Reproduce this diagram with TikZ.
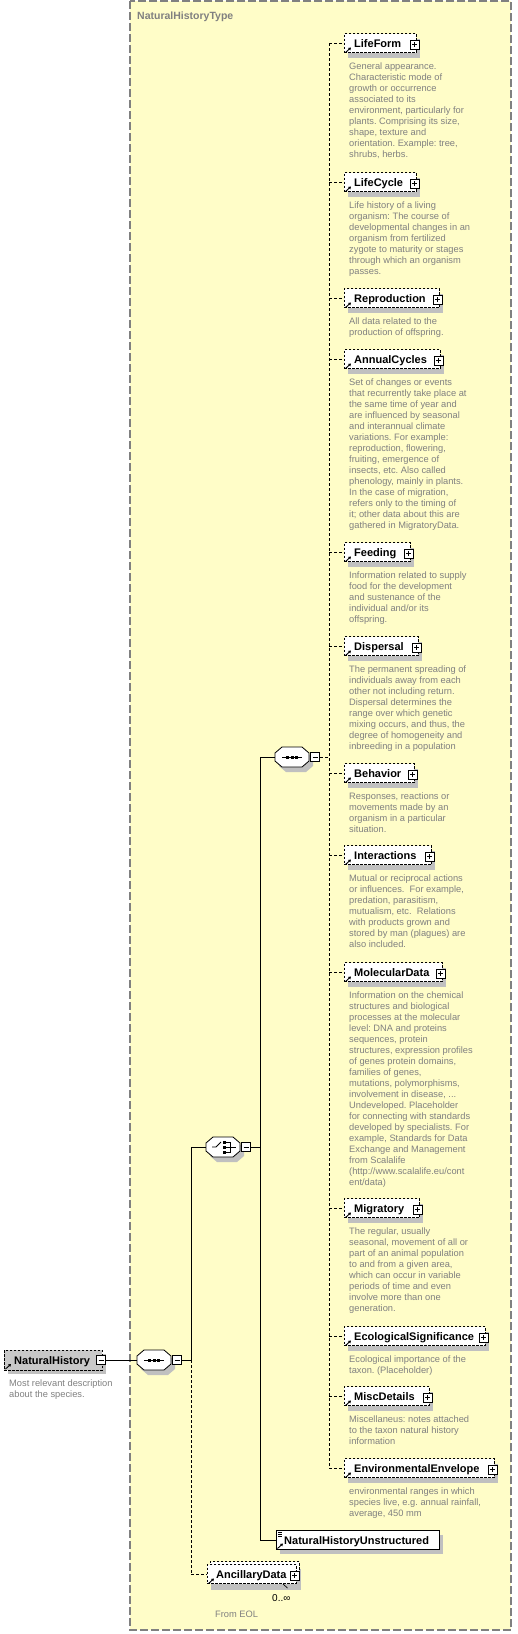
\documentclass[tikz,border=0pt]{standalone}
\usepackage{fontspec}
\setmainfont{Liberation Sans}
\usetikzlibrary{arrows.meta}
\definecolor{bgyellow}{RGB}{255,253,200}
\definecolor{framegray}{RGB}{128,128,128}
\definecolor{desccol}{RGB}{128,128,128}
\definecolor{shadowgray}{RGB}{192,192,192}
\definecolor{rootgray}{RGB}{200,200,200}
\tikzset{
 kidbox/.style={draw=black, dash pattern=on 2.5pt off 1.5pt, line width=0.8pt, fill=white, minimum height=19pt, inner sep=0pt, anchor=west},
 kidname/.style={font=\fontsize{11}{13}\selectfont\bfseries, inner sep=0pt, anchor=base west},
 desc/.style={font=\fontsize{9.3}{11}\selectfont\frenchspacing, text=desccol, inner sep=0pt, anchor=base west},
 pmbox/.style={draw=black, fill=white, line width=0.7pt, minimum size=9pt, inner sep=0pt},
 plusbox/.style={pmbox, path picture={\draw[line width=0.7pt] ([xshift=2pt]path picture bounding box.west) -- ([xshift=-2pt]path picture bounding box.east) ([yshift=-2pt]path picture bounding box.north) -- ([yshift=2pt]path picture bounding box.south);}},
 minusbox/.style={pmbox, path picture={\draw[line width=0.7pt] ([xshift=2pt]path picture bounding box.west) -- ([xshift=-2pt]path picture bounding box.east);}},
 conn/.style={line width=0.8pt},
 dconn/.style={line width=0.8pt, dash pattern=on 3pt off 2pt},
 refarr/.style={line width=0.9pt, -{Triangle[length=2.5pt,width=3pt]}},
 octline/.style={line width=0.8pt, fill=white},
}
\newcommand\kid[5]{%
 \fill[shadowgray] (348,#2-4.5) rectangle (344+#3+4,#2+14.5);
 \node[kidbox, minimum width=#3pt] (#1) at (344,#2) {};
 \node[kidname] (#1t) at (354,#2+4.5) {#4};
 \draw[refarr] (345.5,#2+9.5) -- (351,#2+4.5);
 \node[plusbox] (#1p) at (344+#3-1.5,#2+1.5) {};
 \node[desc] (#1d) at (349,#2+26) {\begin{tabular}[t]{@{}l@{}}#5\end{tabular}};
 \coordinate (#1j) at (329,#2);
 \draw[dconn] (#1j) -- (#1);
}
\newcommand\octa[3]{%
 \fill[shadowgray] (#2+4,#3+1) -- (#2+11,#3-5) -- (#2+31,#3-5) -- (#2+38,#3+1) -- (#2+38,#3+9) -- (#2+31,#3+15) -- (#2+11,#3+15) -- (#2+4,#3+9) -- cycle;
 \draw[octline] (#2,#3-4) -- (#2+7,#3-10) -- (#2+27,#3-10) -- (#2+34,#3-4) -- (#2+34,#3+4) -- (#2+27,#3+10) -- (#2+7,#3+10) -- (#2,#3+4) -- cycle;
 \node[inner sep=0pt, minimum width=34pt, minimum height=20pt, anchor=west] (#1) at (#2,#3) {};
}
\newcommand\seqsym[2]{%
 \draw[line width=0.8pt] (#1+7,#2) -- (#1+27,#2);
 \fill (#1+11,#2-1.5) rectangle (#1+14,#2+1.5);
 \fill (#1+15.5,#2-1.5) rectangle (#1+18.5,#2+1.5);
 \fill (#1+20,#2-1.5) rectangle (#1+23,#2+1.5);
}
\begin{document}
\begin{tikzpicture}[x=1pt,y=-1pt]
\useasboundingbox (0,0) rectangle (518,1634);
% frame
\draw[framegray, fill=bgyellow, dash pattern=on 8pt off 3pt, line width=1.2pt] (130,1) rectangle (511,1630);
\node[font=\fontsize{10.5}{12}\selectfont\bfseries, text=framegray, anchor=base west, inner sep=0pt] (title) at (137,19) {NaturalHistoryType};

% junction coordinates
\coordinate (j1) at (191,1360);
\coordinate (jc) at (191,1147);
\coordinate (ja) at (191,1574);
\coordinate (j2) at (260,1147);
\coordinate (j2t) at (260,757);
\coordinate (j2b) at (260,1540);
\coordinate (j3) at (329,757);

% children of inner sequence
\kid{lifeform}{43}{72}{LifeForm}{General appearance.\\Characteristic mode of\\growth or occurrence\\associated to its\\environment, particularly for\\plants. Comprising its size,\\shape, texture and\\orientation. Example: tree,\\shrubs, herbs.}
\kid{lifecycle}{182}{72}{LifeCycle}{Life history of a living\\organism: The course of\\developmental changes in an\\organism from fertilized\\zygote to maturity or stages\\through which an organism\\passes.}
\kid{reproduction}{298}{95}{Reproduction}{All data related to the\\production of offspring.}
\kid{annualcycles}{359}{96}{AnnualCycles}{Set of changes or events\\that recurrently take place at\\the same time of year and\\are influenced by seasonal\\and interannual climate\\variations. For example:\\reproduction, flowering,\\fruiting, emergence of\\insects, etc. Also called\\phenology, mainly in plants.\\In the case of migration,\\refers only to the timing of\\it; other data about this are\\gathered in MigratoryData.}
\kid{feeding}{552}{66}{Feeding}{Information related to supply\\food for the development\\and sustenance of the\\individual and/or its\\offspring.}
\kid{dispersal}{646}{74}{Dispersal}{The permanent spreading of\\individuals away from each\\other not including return.\\Dispersal determines the\\range over which genetic\\mixing occurs, and thus, the\\degree of homogeneity and\\inbreeding in a population}
\kid{behavior}{773}{70}{Behavior}{Responses, reactions or\\movements made by an\\organism in a particular\\situation.}
\kid{interactions}{855}{87}{Interactions}{Mutual or reciprocal actions\\or influences.\ \ For example,\\predation, parasitism,\\mutualism, etc.\ \ Relations\\with products grown and\\stored by man (plagues) are\\also included.}
\kid{moleculardata}{972}{98}{MolecularData}{Information on the chemical\\structures and biological\\processes at the molecular\\level: DNA and proteins\\sequences, protein\\structures, expression profiles\\of genes protein domains,\\families of genes,\\mutations, polymorphisms,\\involvement in disease, ...\\Undeveloped. Placeholder\\for connecting with standards\\developed by specialists. For\\example, Standards for Data\\Exchange and Management\\from Scalalife\\(http://www.scalalife.eu/cont\\ent/data)}
\kid{migratory}{1208}{75}{Migratory}{The regular, usually\\seasonal, movement of all or\\part of an animal population\\to and from a given area,\\which can occur in variable\\periods of time and even\\involve more than one\\generation.}
\kid{ecosig}{1336}{141}{EcologicalSignificance}{Ecological importance of the\\taxon. (Placeholder)}
\kid{miscdetails}{1396}{85}{MiscDetails}{Miscellaneus: notes attached\\to the taxon natural history\\information}
\kid{envenv}{1468}{150}{EnvironmentalEnvelope}{environmental ranges in which\\species live, e.g. annual rainfall,\\average, 450 mm}

% vertical dashed bus of inner sequence
\draw[dconn] (lifeformj) -- (envenvj);

% inner sequence
\octa{seqB}{275}{757}
\seqsym{275}{757}
\node[minusbox] (seqBm) at (315,757) {};
\draw[dconn] (seqBm) -- (j3);

% choice
\octa{choice}{206}{1147}
\draw[line width=0.8pt] (212,1147) -- (216,1147) -- (221,1142);
\fill (222.5,1140.5) rectangle (225.5,1143.5);
\fill (222.5,1145.5) rectangle (225.5,1148.5);
\fill (222.5,1150.5) rectangle (225.5,1153.5);
\draw[line width=0.7pt] (225.5,1142) -- (230,1142) -- (230,1152) -- (225.5,1152);
\draw[line width=0.7pt] (225.5,1147) -- (236,1147);
\node[minusbox] (choicem) at (246,1147) {};
\draw[conn] (choicem) -- (j2);
\draw[conn] (j2t) -- (j2b);
\draw[conn] (j2t) -- (seqB);

% unstructured
\fill[shadowgray] (280,1535) rectangle (443,1554);
\node[draw, line width=0.9pt, fill=white, minimum width=163pt, minimum height=19pt, anchor=west, inner sep=0pt] (unst) at (276,1540) {};
\node[kidname] (unstt) at (284,1544.5) {NaturalHistoryUnstructured};
\draw[line width=0.6pt] (278,1532.5) -- (282,1532.5) (278,1534.5) -- (282,1534.5) (278,1536.5) -- (282,1536.5);
\draw[refarr] (277.5,1548.5) -- (283,1543.5);
\draw[conn] (j2b) -- (unst);

% outer sequence
\octa{seqA}{137}{1360}
\seqsym{137}{1360}
\node[minusbox] (seqAm) at (177,1360) {};
\draw[conn] (seqAm) -- (j1);
\draw[conn] (j1) -- (jc);
\draw[conn] (jc) -- (choice);
\draw[dconn] (j1) -- (ja);

% ancillary data
\fill[shadowgray] (211,1569) rectangle (301,1590);
\node[kidbox, minimum width=89pt] (ancb) at (210,1571) {};
\node[kidbox, minimum width=89pt] (anc) at (207,1574) {};
\node[kidname] (anct) at (216,1578.5) {AncillaryData};
\draw[refarr] (208.5,1583.5) -- (214,1578.5);
\node[plusbox] (ancp) at (294.5,1575.5) {};
\draw[line width=0.7pt] (283,1584) -- (287.5,1588);
\node[font=\fontsize{10}{12}\selectfont, anchor=base west, inner sep=0pt] (occ) at (272,1601) {0..∞};
\node[desc] (eol) at (215,1617) {From EOL};
\draw[dconn] (ja) -- (anc);

% root element
\fill[shadowgray] (8,1354) rectangle (106,1374);
\node[draw=black, dash pattern=on 2.5pt off 1.5pt, line width=0.8pt, fill=rootgray, minimum width=98pt, minimum height=20pt, anchor=west, inner sep=0pt] (root) at (4,1360) {};
\node[kidname] (roott) at (14,1364.5) {NaturalHistory};
\draw[refarr] (5.5,1369) -- (11,1364);
\node[minusbox] (rootm) at (101,1360) {};
\node[desc] (rootd) at (9,1386) {\begin{tabular}[t]{@{}l@{}}Most relevant description\\about the species.\end{tabular}};
\draw[conn] (rootm) -- (seqA);
\end{tikzpicture}
\end{document}
